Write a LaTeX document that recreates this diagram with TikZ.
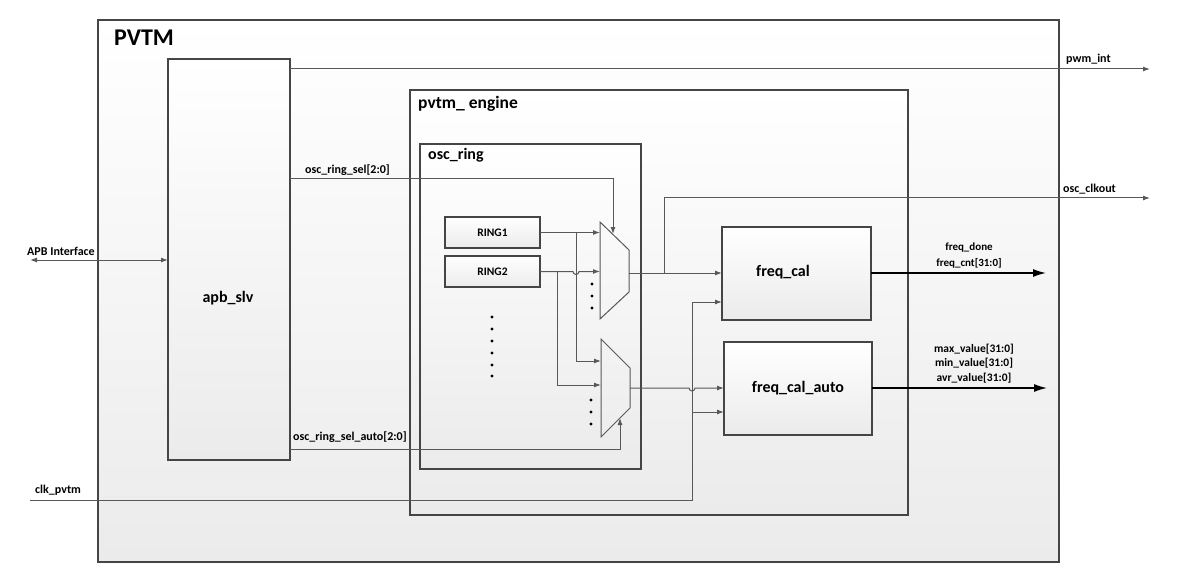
\documentclass[tikz,border=0pt]{standalone}
\usepackage{fontspec}
\setmainfont{Carlito}
\usetikzlibrary{calc, arrows.meta}

\definecolor{edgegray}{HTML}{454545}
\definecolor{wiregray}{HTML}{585858}
\definecolor{fillbot}{HTML}{EBEBEB}

\tikzset{
  blk/.style={draw=edgegray, line width=1.8pt, top color=white, bottom color=fillbot,
    inner sep=0pt, outer sep=0pt, anchor=north west},
  ringblk/.style={blk, line width=1.3pt},
  wire/.style={draw=wiregray, line width=1pt},
  sig/.style={wire, -{Latex[length=7pt,width=5pt]}},
  bus/.style={draw=black, line width=1.4pt, -{Latex[length=13pt,width=8pt]}},
  lbl/.style={font=\fontsize{11}{13}\selectfont\bfseries, inner sep=1pt},
  biglbl/.style={font=\fontsize{12}{14}\selectfont\bfseries, inner sep=1pt},
  title/.style={font=\fontsize{16}{18}\selectfont\bfseries, inner sep=0pt, anchor=west},
}

\begin{document}
\begin{tikzpicture}[x=1pt, y=-1pt]
  \useasboundingbox (0,0) rectangle (1196,580);

  % blocks
  \node[blk, minimum width=961pt, minimum height=542pt] (pvtm) at (98,20) {};
  \node[blk, minimum width=122pt, minimum height=401pt] (apb) at (168,59) {};
  \node[blk, minimum width=498pt, minimum height=425pt] (engine) at (410,90) {};
  \node[blk, minimum width=221pt, minimum height=325pt] (osc) at (420,144) {};
  \node[ringblk, minimum width=95pt, minimum height=31pt] (ring1) at (445,217) {};
  \node[ringblk, minimum width=95pt, minimum height=31pt] (ring2) at (445,256) {};
  \node[blk, minimum width=149pt, minimum height=93pt] (fcal) at (722,227) {};
  \node[blk, minimum width=148pt, minimum height=93pt] (fauto) at (724,342) {};

  \node[title, font=\fontsize{24}{26}\selectfont\bfseries] (pvtmtxt) at (114,38) {PVTM};
  \node[title, font=\fontsize{17.5}{20}\selectfont\bfseries] (enginetxt) at (418,104) {pvtm\_ engine};
  \node[title] (osctxt) at (428,155) {osc\_ring};
  \node[lbl, font=\fontsize{11.5}{13}\selectfont\bfseries] (ring1txt) at (ring1.center) {RING1};
  \node[lbl, font=\fontsize{11.5}{13}\selectfont\bfseries] (ring2txt) at (ring2.center) {RING2};
  \node[title, anchor=center] (apbtxt) at (228,298) {apb\_slv};
  \node[title, anchor=center] (fcaltxt) at (783,272) {freq\_cal};
  \node[title, anchor=center] (fautotxt) at (fauto.center) {freq\_cal\_auto};

  % muxes
  \coordinate (m1a) at (600,222); \coordinate (m1b) at (629,250);
  \coordinate (m1c) at (629,292); \coordinate (m1d) at (600,319);
  \coordinate (m2a) at (601,339); \coordinate (m2b) at (630,368);
  \coordinate (m2c) at (630,408); \coordinate (m2d) at (601,437);
  \draw[wire] (m1a) -- (m1b) -- (m1c) -- (m1d) -- cycle;
  \draw[wire] (m2a) -- (m2b) -- (m2c) -- (m2d) -- cycle;
  \coordinate (m1out) at (629,273);
  \coordinate (m2out) at (630,388);
  \coordinate (m1sel) at (613,234);
  \coordinate (m2sel) at (620,418);

  \foreach \y in {284,296,308} \fill (592,\y) circle (1.7pt);
  \foreach \y in {400,412,424} \fill (591,\y) circle (1.7pt);
  \foreach \y in {317,329,341,353,365,376} \fill (492,\y) circle (1.7pt);

  % left side
  \coordinate (apbin) at (30,260);
  \coordinate (clkin) at (30,500);
  \draw[wire, {Latex[length=7pt,width=5pt]}-{Latex[length=7pt,width=5pt]}] (apbin) -- (apbin -| apb.west);
  \node[biglbl, anchor=south west] (apblbl) at (26,257) {APB Interface};
  \node[biglbl, anchor=south west] (clklbl) at (34,497) {clk\_pvtm};

  % register outputs
  \coordinate (pwmout) at (1150,69);
  \draw[sig] (apb.east |- pwmout) -- (pwmout);
  \node[biglbl, anchor=south west] (pwmlbl) at (1065,66) {pwm\_int};

  \coordinate (sel) at (apb.east |- 0,179);
  \draw[sig] (sel) -| (m1sel);
  \node[biglbl, anchor=south west] (sellbl) at (304,177) {osc\_ring\_sel[2:0]};

  \coordinate (selauto) at (apb.east |- 0,449);
  \draw[sig] (selauto) -| (m2sel);
  \node[biglbl, anchor=south west] (selautolbl) at (292,444) {osc\_ring\_sel\_auto[2:0]};

  % ring to mux
  \coordinate (br1) at (576,0);
  \coordinate (br2) at (557,0);
  \draw[sig] (ring1.east) -- (ring1.east -| m1a);
  \draw[sig] (ring1.east -| br1) |- (m2a |- 0,361);
  \draw[sig] (ring2.east) -- ($(ring2.east -| br1)+(-3,0)$) arc[start angle=180, end angle=360, radius=3pt]
    -- (ring2.east -| m1a);
  \draw[sig] (ring2.east -| br2) |- (m2a |- 0,385);

  % mux to calc
  \coordinate (clktap) at (664,0);
  \coordinate (clkout) at (1150,198);
  \draw[sig] (m1out) -- (m1out -| fcal.west);
  \draw[sig] (m1out -| clktap) |- (clkout);
  \node[biglbl, anchor=south west] (clkoutlbl) at (1062,195) {osc\_clkout};

  \coordinate (clkv) at (692,302);
  \draw[sig] (m2out) -- ($(m2out -| clkv)+(-3,0)$) arc[start angle=180, end angle=360, radius=3pt]
    -- (m2out -| fauto.west);
  \draw[sig] (clkin) -| (clkv) -- (clkv -| fcal.west);
  \draw[sig] (clkv |- 0,412) -- (fauto.west |- 0,412);

  % outputs
  \draw[bus] (fcal.east |- m1out) -- ++(175,0);
  \node[lbl, align=center, anchor=south, font=\fontsize{11}{16}\selectfont\bfseries] (fcallbl) at (969,269) {freq\_done\\freq\_cnt[31:0]};
  \draw[bus] (fauto.east |- m2out) -- ++(175,0);
  \node[lbl, align=center, anchor=south, font=\fontsize{11.5}{14.5}\selectfont\bfseries] (fautolbl) at (974,384) {max\_value[31:0]\\min\_value[31:0]\\avr\_value[31:0]};
\end{tikzpicture}
\end{document}
